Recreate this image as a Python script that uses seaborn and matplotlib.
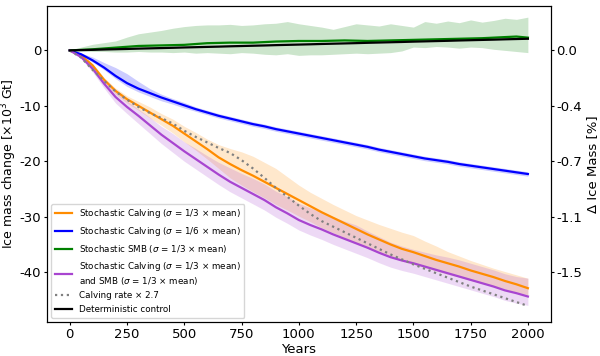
import numpy as np
import pandas as pd
import seaborn as sns
import matplotlib
matplotlib.use("Agg")
import matplotlib.pyplot as plt

years = list(range(0, 2001, 50))

# mean ice mass change [x10^3 Gt]
calving_third = [0, -0.9, -2.7, -5.3, -7.3, -8.8, -10.0, -11.2, -12.4, -13.6,
                 -15.0, -16.4, -17.8, -19.3, -20.5, -21.6, -22.6, -23.7, -24.8, -25.9,
                 -27.0, -28.1, -29.2, -30.2, -31.2, -32.2, -33.2, -34.1, -35.0, -35.8,
                 -36.4, -37.1, -37.8, -38.4, -39.0, -39.7, -40.3, -40.9, -41.6, -42.2, -42.9]
calving_sixth = [0, -0.7, -1.8, -3.1, -4.6, -5.9, -6.9, -7.7, -8.5, -9.2,
                 -9.9, -10.6, -11.2, -11.8, -12.3, -12.8, -13.3, -13.7, -14.2, -14.6,
                 -15.0, -15.4, -15.8, -16.2, -16.6, -17.0, -17.4, -17.9, -18.3, -18.7,
                 -19.1, -19.5, -19.8, -20.1, -20.5, -20.8, -21.1, -21.4, -21.7, -22.0, -22.3]
smb_third = [0, 0.1, 0.2, 0.35, 0.5, 0.65, 0.8, 0.85, 0.9, 0.95,
             1.0, 1.15, 1.3, 1.35, 1.4, 1.4, 1.4, 1.5, 1.6, 1.65,
             1.7, 1.7, 1.7, 1.75, 1.8, 1.75, 1.7, 1.75, 1.8, 1.85,
             1.9, 1.95, 2.0, 2.05, 2.1, 2.15, 2.2, 2.3, 2.4, 2.5, 2.3]
calving_smb = [0, -1.2, -3.3, -6.0, -8.4, -10.2, -11.8, -13.5, -15.2, -16.7,
               -18.2, -19.6, -21.0, -22.4, -23.7, -24.8, -25.9, -27.0, -28.3, -29.4,
               -30.6, -31.5, -32.3, -33.2, -34.0, -34.8, -35.6, -36.5, -37.3, -37.9,
               -38.4, -39.0, -39.6, -40.2, -40.8, -41.4, -42.0, -42.6, -43.3, -43.8, -44.4]
calving_x27 = [0, -1.3, -3.5, -5.5, -7.4, -8.9, -10.2, -11.3, -12.2, -13.2,
               -14.5, -15.6, -16.6, -17.6, -18.5, -19.8, -21.3, -23.0, -24.8, -26.4,
               -28.0, -29.5, -30.8, -31.8, -32.8, -33.8, -34.8, -35.8, -36.8, -37.7,
               -38.6, -39.4, -40.2, -41.0, -41.8, -42.6, -43.3, -44.0, -44.7, -45.4, -46.1]
control = [0, 0.05, 0.1, 0.16, 0.21, 0.26, 0.32, 0.37, 0.42, 0.47,
           0.53, 0.58, 0.63, 0.68, 0.74, 0.79, 0.84, 0.89, 0.95, 1.0,
           1.05, 1.1, 1.16, 1.21, 1.26, 1.31, 1.37, 1.42, 1.47, 1.52,
           1.58, 1.63, 1.68, 1.73, 1.79, 1.84, 1.89, 1.94, 2.0, 2.05, 2.1]

# ensemble spread (upper / lower bounds)
calving_third_hi = [0, -0.7, -2.4, -4.9, -6.8, -8.2, -9.2, -10.2, -11.4, -12.4,
                    -13.7, -14.8, -16.0, -17.0, -17.7, -18.3, -19.1, -20.2, -21.3, -22.8,
                    -24.3, -25.6, -26.7, -27.8, -28.8, -29.8, -30.6, -31.4, -32.1, -32.8,
                    -33.4, -34.4, -35.3, -36.3, -37.1, -37.9, -38.6, -39.3, -39.9, -40.5, -41.1]
calving_third_lo = [0, -1.1, -3.0, -5.8, -7.9, -9.5, -10.8, -12.2, -13.5, -14.9,
                    -16.5, -18.0, -19.6, -21.3, -23.0, -24.3, -25.5, -26.6, -27.8, -28.8,
                    -29.9, -30.9, -32.0, -32.9, -33.8, -34.7, -35.7, -36.5, -37.3, -38.0,
                    -38.6, -39.2, -39.8, -40.4, -40.9, -41.5, -42.0, -42.5, -43.1, -43.6, -44.1]
calving_sixth_hi = [0, -0.5, -1.2, -2.2, -3.1, -4.2, -5.6, -6.9, -7.9, -8.7,
                    -9.4, -10.2, -10.8, -11.4, -11.9, -12.4, -12.9, -13.3, -13.8, -14.2,
                    -14.6, -15.0, -15.4, -15.8, -16.2, -16.6, -17.0, -17.5, -17.9, -18.3,
                    -18.7, -19.1, -19.4, -19.7, -20.1, -20.4, -20.7, -21.0, -21.3, -21.6, -21.9]
calving_sixth_lo = [0, -0.9, -2.1, -3.5, -5.1, -6.5, -7.5, -8.3, -9.1, -9.7,
                    -10.4, -11.0, -11.6, -12.2, -12.7, -13.2, -13.7, -14.1, -14.6, -15.0,
                    -15.4, -15.8, -16.2, -16.6, -17.0, -17.4, -17.8, -18.3, -18.7, -19.1,
                    -19.5, -19.9, -20.2, -20.5, -20.9, -21.2, -21.5, -21.8, -22.1, -22.4, -22.7]
smb_third_hi = [0, 0.6, 1.1, 1.4, 1.7, 2.4, 3.0, 3.3, 3.6, 4.0,
                4.3, 4.5, 4.6, 4.6, 4.7, 4.5, 4.6, 4.8, 4.9, 5.2,
                4.8, 4.5, 4.2, 3.8, 4.3, 4.8, 4.6, 4.4, 4.8, 4.5,
                4.2, 5.2, 4.9, 5.3, 5.0, 5.5, 5.1, 5.4, 5.8, 5.6, 6.0]
smb_third_lo = [0, -0.1, -0.2, -0.2, -0.3, -0.3, -0.2, -0.3, -0.3, -0.4,
                -0.3, -0.5, -0.4, -0.5, -0.6, -0.4, -0.5, -0.7, -0.8, -0.6,
                -0.9, -0.8, -0.8, -0.7, -0.6, -0.5, -0.6, -0.5, -0.4, -0.1,
                0.6, 0.5, 0.7, 0.6, 0.4, 0.6, 0.5, 0.2, 0.0, -0.2, -0.4]
calving_smb_hi = [0, -0.9, -2.7, -5.3, -7.4, -9.1, -10.6, -12.1, -13.7, -15.0,
                  -16.5, -17.7, -19.0, -20.2, -21.2, -22.2, -23.1, -24.1, -25.4, -26.4,
                  -27.6, -28.4, -29.2, -30.0, -30.8, -31.5, -32.6, -33.6, -34.6, -35.3,
                  -35.9, -36.4, -36.9, -37.3, -37.8, -38.4, -39.0, -39.6, -40.3, -40.8, -41.1]
calving_smb_lo = [0, -1.5, -3.9, -6.8, -9.5, -11.4, -13.2, -15.0, -16.8, -18.4,
                  -20.0, -21.4, -22.8, -24.2, -25.5, -26.6, -27.7, -28.8, -30.1, -31.2,
                  -32.4, -33.3, -34.1, -35.0, -35.8, -36.6, -37.4, -38.3, -39.1, -39.7,
                  -40.2, -40.8, -41.4, -42.0, -42.6, -43.2, -43.8, -44.4, -45.1, -45.6, -46.0]

total_mass = 2700  # x10^3 Gt, for the percentage axis

series = {
    r"Stochastic Calving ($\sigma$ = 1/3 × mean)": (calving_third, calving_third_lo, calving_third_hi, "darkorange"),
    r"Stochastic Calving ($\sigma$ = 1/6 × mean)": (calving_sixth, calving_sixth_lo, calving_sixth_hi, "blue"),
    r"Stochastic SMB ($\sigma$ = 1/3 × mean)": (smb_third, smb_third_lo, smb_third_hi, "green"),
    "Stochastic Calving ($\\sigma$ = 1/3 × mean)\nand SMB ($\\sigma$ = 1/3 × mean)": (calving_smb, calving_smb_lo, calving_smb_hi, "#a845d0"),
}

plt.rcParams["axes.unicode_minus"] = False
fig, ax = plt.subplots(figsize=(6, 3.56), dpi=100)
fig.subplots_adjust(left=0.078, right=0.918, top=0.983, bottom=0.0955)

for label, (mean, lo, hi, col) in series.items():
    ax.fill_between(years, lo, hi, color=col, alpha=0.2, linewidth=0)
    sns.lineplot(x=years, y=mean, color=col, linewidth=1.6, label=label, ax=ax)

sns.lineplot(x=years, y=calving_x27, color="grey", linestyle=":", linewidth=1.6,
             label="Calving rate × 2.7", ax=ax)
sns.lineplot(x=years, y=control, color="black", linewidth=1.6,
             label="Deterministic control", ax=ax)

ax.set_xlim(-100, 2100)
ax.set_ylim(-49, 8)
ax.set_xticks(range(0, 2001, 250))
ax.set_yticks([0, -10, -20, -30, -40])
ax.set_xlabel("Years", fontsize=9.5, labelpad=1.5)
ax.set_ylabel(r"Ice mass change [×10$^3$ Gt]", fontsize=9, labelpad=0.5)
ax.tick_params(labelsize=9.5, length=2.5, pad=1.5)
ax.legend(loc="lower left", fontsize=6.3, labelspacing=0.55, handlelength=2.0,
          handletextpad=0.8, framealpha=0.8)

ax2 = ax.twinx()
ax2.set_ylim(ax.get_ylim())
ticks = [0, -10, -20, -30, -40]
ax2.set_yticks(ticks)
ax2.set_yticklabels([f"{t / total_mass * 100:.1f}" for t in ticks])
ax2.set_ylabel("Δ Ice Mass [%]", fontsize=9.5, labelpad=3)
ax2.tick_params(labelsize=9.5, length=2.5, pad=1.5)

fig.savefig("out.png", dpi=100)
